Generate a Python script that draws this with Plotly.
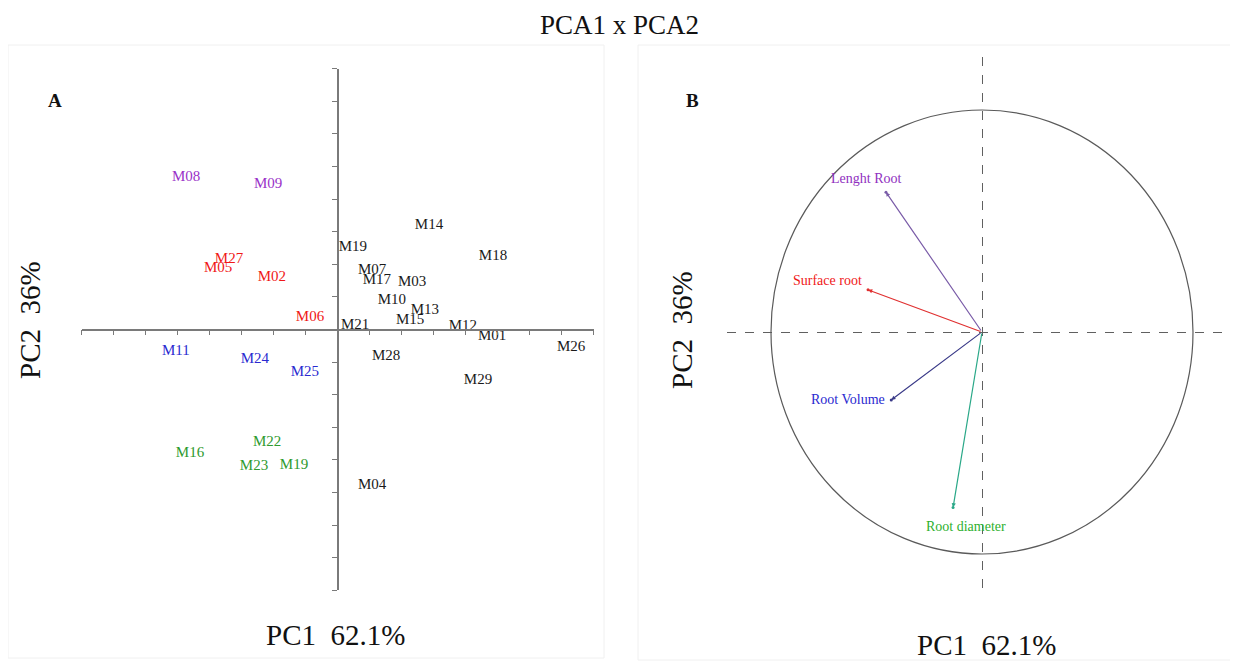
import plotly.graph_objects as go

# The page body has an 8px margin, so the figure is drawn 8px in from the window edge.
OFF = 8
W, H = 1238 - OFF, 661 - OFF
SERIF = "Liberation Serif, Times New Roman, serif"


def px(xr):
    return (xr - OFF) / W


def py(yr):
    return 1 - (yr - OFF) / H


# ---------------- Panel A data (scores) ----------------
genotypes = ["M08", "M09", "M14", "M19", "M18", "M27", "M05", "M02", "M07", "M17",
             "M03", "M10", "M13", "M15", "M06", "M21", "M12", "M01", "M26", "M11",
             "M24", "M25", "M28", "M29", "M22", "M16", "M23", "M19", "M04"]
pc1_scores = [-4.73, -2.17, 2.86, 0.48, 4.86, -3.39, -3.73, -2.05, 1.08, 1.23,
              2.33, 1.70, 2.73, 2.27, -0.86, 0.55, 3.92, 4.83, 7.30, -5.05,
              -2.58, -1.02, 1.52, 4.39, -2.20, -4.61, -2.61, -1.36, 1.08]
pc2_scores = [4.68, 4.46, 3.21, 2.53, 2.25, 2.16, 1.89, 1.61, 1.83, 1.52,
              1.46, 0.90, 0.60, 0.29, 0.38, 0.14, 0.11, -0.20, -0.54, -0.66,
              -0.90, -1.30, -0.81, -1.55, -3.45, -3.79, -4.19, -4.16, -4.77]
groups = ["purple", "purple", "black", "black", "black", "red", "red", "red", "black", "black",
          "black", "black", "black", "black", "red", "black", "black", "black", "black", "blue",
          "blue", "blue", "black", "black", "green", "green", "green", "green", "black"]
group_colors = {"purple": "#9a32c8", "red": "#f01818", "blue": "#2a2ad0",
                "green": "#2e9a2e", "black": "#1a1a1a"}

# ---------------- Panel B data (loadings) ----------------
variables = ["Lenght Root", "Surface root", "Root Volume", "Root diameter"]
load_pc1 = [-0.455, -0.54, -0.43, -0.137]
load_pc2 = [0.63, 0.19, -0.306, -0.79]
var_text_colors = ["#9030c0", "#f01818", "#2a2ad0", "#2eb02e"]
var_line_colors = ["#7a5ca8", "#e03030", "#3a3a88", "#2aa888"]

pc1_label = "PC1  62.1%"
pc2_label = "PC2  36%"

fig = go.Figure()

# Panel A scores as text marks
fig.add_trace(go.Scatter(
    x=pc1_scores, y=pc2_scores, text=genotypes, mode="text",
    textposition="middle center",
    textfont=dict(family=SERIF, size=15, color=[group_colors[g] for g in groups]),
    xaxis="x", yaxis="y", hoverinfo="text", showlegend=False))

# Panel B: tip dots
fig.add_trace(go.Scatter(x=load_pc1, y=load_pc2, mode="markers",
                         marker=dict(size=3, color=var_line_colors),
                         xaxis="x2", yaxis="y2", showlegend=False, hoverinfo="skip"))

# ---------------- Axes ----------------
cx, cy = 337.5, 329.5          # reference-pixel position of origin in panel A
ux, uy = 32.0, 32.6            # pixels per unit
xa0, xa1 = cx - 8 * ux, cx + 8 * ux
ya0, ya1 = cy - 8 * uy, cy + 8 * uy

axis_style = dict(showline=True, linecolor="#7a7a7a", linewidth=1.5, ticks="outside",
                  ticklen=5, tickwidth=1.2, tickcolor="#7a7a7a", dtick=1, tick0=0,
                  showticklabels=False, showgrid=False, zeroline=False, range=[-8, 8],
                  fixedrange=True)

fig.update_layout(
    xaxis=dict(domain=[px(xa0), px(xa1)], anchor="free", position=py(cy), **axis_style),
    yaxis=dict(domain=[py(ya1), py(ya0)], anchor="free", position=px(cx), **axis_style),
)

# Panel B axes: dashed reference lines through origin via gridlines
bcx, bcy, brx, bry = 982.0, 332.0, 211.0, 222.0
bx0, bx1 = 727.0, 1238.0
by0, by1 = 57.0, 597.0
fig.update_layout(
    xaxis2=dict(domain=[px(bx0), px(bx1)], anchor="y2",
                range=[(bx0 - bcx) / brx, (bx1 - bcx) / brx],
                tickvals=[0], showticklabels=False, ticks="", showgrid=True,
                gridcolor="#606060", gridwidth=1.2, griddash="dash",
                zeroline=False, showline=False, fixedrange=True),
    yaxis2=dict(domain=[py(by1), py(by0)], anchor="x2",
                range=[(bcy - by1) / bry, (bcy - by0) / bry],
                tickvals=[0], showticklabels=False, ticks="", showgrid=True,
                gridcolor="#606060", gridwidth=1.2, griddash="dash",
                zeroline=False, showline=False, fixedrange=True),
)

shapes = []
# correlation circle
shapes.append(dict(type="circle", xref="x2", yref="y2", x0=-1, x1=1, y0=-1, y1=1,
                   line=dict(color="#5a5a5a", width=1.2)))
# faint panel frames
shapes.append(dict(type="rect", xref="paper", yref="paper",
                   x0=px(8), x1=px(604), y0=py(658), y1=py(45),
                   line=dict(color="#f0f0f0", width=1)))
shapes.append(dict(type="rect", xref="paper", yref="paper",
                   x0=px(638), x1=px(1237), y0=py(660), y1=py(45),
                   line=dict(color="#f0f0f0", width=1)))

annotations = []
# arrows
for vx, vy, lc in zip(load_pc1, load_pc2, var_line_colors):
    annotations.append(dict(x=vx, y=vy, ax=0, ay=0, xref="x2", yref="y2",
                            axref="x2", ayref="y2", showarrow=True, arrowhead=2,
                            arrowsize=0.7, arrowwidth=1.2, arrowcolor=lc, text=""))
# arrow labels
label_offsets = [("center", -20, 14), ("right", -4, 9), ("right", -4, 0), ("center", 13, -19)]
for name, vx, vy, tc, (xa, xs, ys) in zip(variables, load_pc1, load_pc2, var_text_colors, label_offsets):
    annotations.append(dict(x=vx, y=vy, xref="x2", yref="y2", text=name, showarrow=False,
                            xanchor=xa, yanchor="middle", xshift=xs, yshift=ys,
                            font=dict(family=SERIF, size=14, color=tc)))

big = dict(family=SERIF, size=29, color="#111")
annotations.append(dict(x=px(619), y=py(25), xref="paper", yref="paper", text="PCA1 x PCA2",
                        showarrow=False, xanchor="center", yanchor="middle",
                        font=dict(family=SERIF, size=27, color="#111")))
annotations.append(dict(x=px(335), y=py(635), xref="paper", yref="paper", text=pc1_label,
                        showarrow=False, xanchor="center", yanchor="middle", font=big))
annotations.append(dict(x=px(986), y=py(645), xref="paper", yref="paper", text=pc1_label,
                        showarrow=False, xanchor="center", yanchor="middle", font=big))
annotations.append(dict(x=px(30), y=py(320), xref="paper", yref="paper", text=pc2_label,
                        showarrow=False, xanchor="center", yanchor="middle", textangle=-90,
                        font=big))
annotations.append(dict(x=px(682), y=py(330), xref="paper", yref="paper", text=pc2_label,
                        showarrow=False, xanchor="center", yanchor="middle", textangle=-90,
                        font=big))
annotations.append(dict(x=px(55), y=py(100), xref="paper", yref="paper", text="<b>A</b>",
                        showarrow=False, xanchor="center", yanchor="middle",
                        font=dict(family=SERIF, size=19, color="#111")))
annotations.append(dict(x=px(692), y=py(100), xref="paper", yref="paper", text="<b>B</b>",
                        showarrow=False, xanchor="center", yanchor="middle",
                        font=dict(family=SERIF, size=19, color="#111")))

fig.update_layout(
    width=W, height=H, margin=dict(l=0, r=0, t=0, b=0),
    paper_bgcolor="white", plot_bgcolor="white",
    shapes=shapes, annotations=annotations, showlegend=False,
)

fig.write_html("out.html")
